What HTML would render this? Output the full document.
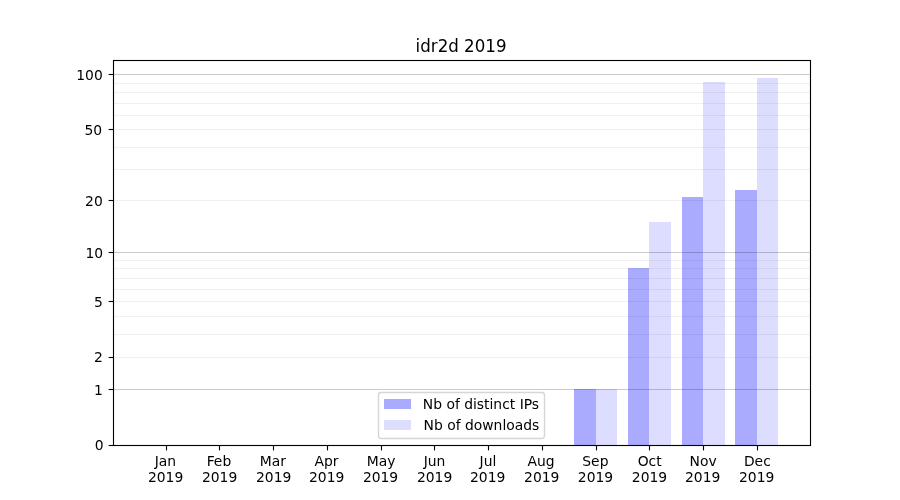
<!DOCTYPE html>
<html lang="en">
<head>
<meta charset="utf-8">
<title>idr2d 2019</title>
<style>
html,body{margin:0;padding:0;background:#fff;}
body{width:900px;height:500px;overflow:hidden;}
svg{display:block;}
text{font-family:"DejaVu Sans","Liberation Sans",sans-serif;fill:#000;}
.t10{font-size:13.889px;}
.t12{font-size:16.667px;}
.mid{text-anchor:middle;}
.end{text-anchor:end;}
.gM{stroke:#000;stroke-opacity:0.2;stroke-width:1;}
.gm{stroke:#000;stroke-opacity:0.06;stroke-width:1;}
.ax{stroke:#000;stroke-width:1.111;fill:none;}
</style>
</head>
<body>
<svg width="900" height="500" viewBox="0 0 900 500">
<rect x="0" y="0" width="900" height="500" fill="#ffffff"/>

<g id="bars" shape-rendering="crispEdges">
<rect x="574" y="389" width="22" height="56" fill="#aaaaff"/>
<rect x="596" y="389" width="21" height="56" fill="#ddddff"/>
<rect x="628" y="268" width="21" height="177" fill="#aaaaff"/>
<rect x="649" y="222" width="22" height="223" fill="#ddddff"/>
<rect x="682" y="197" width="21" height="248" fill="#aaaaff"/>
<rect x="703" y="82" width="22" height="363" fill="#ddddff"/>
<rect x="735" y="190" width="22" height="255" fill="#aaaaff"/>
<rect x="757" y="78" width="21" height="367" fill="#ddddff"/>
</g>
<g id="grid">
<line class="gM" x1="113" x2="810" y1="74.5" y2="74.5"/>
<line class="gM" x1="113" x2="810" y1="252.5" y2="252.5"/>
<line class="gM" x1="113" x2="810" y1="389.5" y2="389.5"/>
<line class="gm" x1="113" x2="810" y1="83.5" y2="83.5"/>
<line class="gm" x1="113" x2="810" y1="92.5" y2="92.5"/>
<line class="gm" x1="113" x2="810" y1="103.5" y2="103.5"/>
<line class="gm" x1="113" x2="810" y1="115.5" y2="115.5"/>
<line class="gm" x1="113" x2="810" y1="129.5" y2="129.5"/>
<line class="gm" x1="113" x2="810" y1="147.5" y2="147.5"/>
<line class="gm" x1="113" x2="810" y1="169.5" y2="169.5"/>
<line class="gm" x1="113" x2="810" y1="200.5" y2="200.5"/>
<line class="gm" x1="113" x2="810" y1="260.5" y2="260.5"/>
<line class="gm" x1="113" x2="810" y1="268.5" y2="268.5"/>
<line class="gm" x1="113" x2="810" y1="278.5" y2="278.5"/>
<line class="gm" x1="113" x2="810" y1="289.5" y2="289.5"/>
<line class="gm" x1="113" x2="810" y1="301.5" y2="301.5"/>
<line class="gm" x1="113" x2="810" y1="316.5" y2="316.5"/>
<line class="gm" x1="113" x2="810" y1="334.5" y2="334.5"/>
<line class="gm" x1="113" x2="810" y1="357.5" y2="357.5"/>
</g>
<rect class="ax" x="113.5" y="60.5" width="697" height="385"/>
<g id="ticks">
<line class="ax" x1="166.5" x2="166.5" y1="445.5" y2="450.4"/>
<line class="ax" x1="219.5" x2="219.5" y1="445.5" y2="450.4"/>
<line class="ax" x1="273.5" x2="273.5" y1="445.5" y2="450.4"/>
<line class="ax" x1="327.5" x2="327.5" y1="445.5" y2="450.4"/>
<line class="ax" x1="381.5" x2="381.5" y1="445.5" y2="450.4"/>
<line class="ax" x1="434.5" x2="434.5" y1="445.5" y2="450.4"/>
<line class="ax" x1="488.5" x2="488.5" y1="445.5" y2="450.4"/>
<line class="ax" x1="542.5" x2="542.5" y1="445.5" y2="450.4"/>
<line class="ax" x1="596.5" x2="596.5" y1="445.5" y2="450.4"/>
<line class="ax" x1="649.5" x2="649.5" y1="445.5" y2="450.4"/>
<line class="ax" x1="703.5" x2="703.5" y1="445.5" y2="450.4"/>
<line class="ax" x1="757.5" x2="757.5" y1="445.5" y2="450.4"/>
<line class="ax" x1="113.5" x2="108.6" y1="445.5" y2="445.5"/>
<line class="ax" x1="113.5" x2="108.6" y1="389.5" y2="389.5"/>
<line class="ax" x1="113.5" x2="108.6" y1="357.5" y2="357.5"/>
<line class="ax" x1="113.5" x2="108.6" y1="301.5" y2="301.5"/>
<line class="ax" x1="113.5" x2="108.6" y1="252.5" y2="252.5"/>
<line class="ax" x1="113.5" x2="108.6" y1="200.5" y2="200.5"/>
<line class="ax" x1="113.5" x2="108.6" y1="129.5" y2="129.5"/>
<line class="ax" x1="113.5" x2="108.6" y1="74.5" y2="74.5"/>
</g>
<g id="xlabels" class="t10 mid">
<text x="165.33" y="466"><tspan x="165.33">Jan</tspan><tspan x="165.59" dy="15.55">2019</tspan></text>
<text x="218.93" y="466"><tspan x="218.93">Feb</tspan><tspan x="219.59" dy="15.55">2019</tspan></text>
<text x="272.93" y="466"><tspan x="272.93">Mar</tspan><tspan x="273.66" dy="15.55">2019</tspan></text>
<text x="326.46" y="466"><tspan x="326.46">Apr</tspan><tspan x="326.69" dy="15.55">2019</tspan></text>
<text x="381.06" y="466"><tspan x="381.06">May</tspan><tspan x="380.54" dy="15.55">2019</tspan></text>
<text x="434.48" y="466"><tspan x="434.48">Jun</tspan><tspan x="434.58" dy="15.55">2019</tspan></text>
<text x="487.96" y="466"><tspan x="487.96">Jul</tspan><tspan x="487.65" dy="15.55">2019</tspan></text>
<text x="541.05" y="466"><tspan x="541.05">Aug</tspan><tspan x="541.72" dy="15.55">2019</tspan></text>
<text x="595.39" y="466"><tspan x="595.39">Sep</tspan><tspan x="595.51" dy="15.55">2019</tspan></text>
<text x="649.68" y="466"><tspan x="649.68">Oct</tspan><tspan x="649.53" dy="15.55">2019</tspan></text>
<text x="703.10" y="466"><tspan x="703.10">Nov</tspan><tspan x="702.70" dy="15.55">2019</tspan></text>
<text x="757.34" y="466"><tspan x="757.34">Dec</tspan><tspan x="756.66" dy="15.55">2019</tspan></text>
</g>
<g id="ylabels" class="t10 end">
<text x="103.68" y="449.50">0</text>
<text x="102.78" y="394.50">1</text>
<text x="102.78" y="361.80">2</text>
<text x="102.78" y="306.50">5</text>
<text x="103.15" y="257.50">10</text>
<text x="102.78" y="205.50">20</text>
<text x="102.18" y="134.50">50</text>
<text x="102.78" y="79.50">100</text>
</g>
<text class="t12 mid" transform="translate(461.05,52) scale(1,1.08)" x="0" y="0">idr2d 2019</text>
<g id="legend">
<rect x="378.5" y="392.5" width="166" height="46" rx="2.8" ry="2.8" fill="#ffffff" fill-opacity="0.8" stroke="#cccccc" stroke-opacity="0.8" stroke-width="1.389"/>
<rect x="384" y="399" width="27" height="10" shape-rendering="crispEdges" fill="#aaaaff"/>
<rect x="384" y="420" width="27" height="10" shape-rendering="crispEdges" fill="#ddddff"/>
<text class="t10" x="422.8" y="408.6">Nb of distinct IPs</text>
<text class="t10" x="423.6" y="429.5">Nb of downloads</text>
</g>

</svg>
</body>
</html>
